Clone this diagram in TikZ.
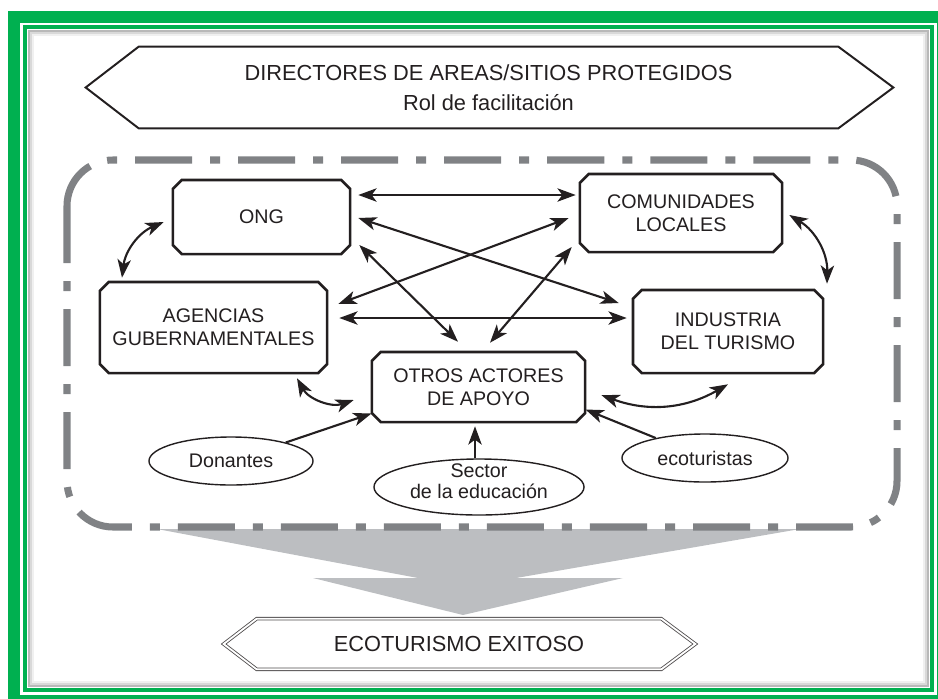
\documentclass[tikz,border=0pt]{standalone}
\usepackage{fontspec}
\setmainfont{Liberation Sans}
\usetikzlibrary{calc,shapes.misc,shapes.geometric,arrows.meta}

\definecolor{framegreen}{RGB}{0,176,80}
\definecolor{dashgrey}{RGB}{128,130,133}
\definecolor{funnelgrey}{RGB}{188,190,193}
\definecolor{ink}{RGB}{35,31,32}

\tikzset{
  actor/.style={chamfered rectangle, chamfered rectangle xsep=0.11cm, chamfered rectangle ysep=0.11cm,
    draw=ink, line width=1.8pt, fill=white, align=center, text=ink, inner sep=0pt,
    font=\fontsize{14}{16.5}\selectfont},
  oval/.style={ellipse, draw=ink, line width=1pt, fill=white, inner sep=0pt, text=ink,
    font=\fontsize{14}{16}\selectfont},
  link/.style={ink, line width=1.5pt},
  banner/.style={draw=ink, line width=1.4pt},
}

\begin{document}
\begin{tikzpicture}[x=0.025cm, y=-0.025cm, >={Stealth[length=13pt,width=9.5pt,inset=3.5pt]}]

\useasboundingbox (0,0) rectangle (938,698);
\clip (0,0) rectangle (938,698);

\draw[framegreen, line width=8.5pt] (14,17) rectangle (943,701);
\draw[framegreen, line width=2.8pt] (25,27) rectangle (932,690);
\draw[gray!55, line width=1.5pt] (29,31) rectangle (928,686);
\draw[gray!30, line width=1.5pt] (31,33) rectangle (926,684);
\draw[gray!12, line width=1.5pt] (33,35) rectangle (924,682);

\node[align=center, text=ink, inner sep=0pt, minimum width=17.475cm, minimum height=2.025cm,
  font=\fontsize{15.5}{21}\selectfont] (dir) at (488.5,87.5)
  {DIRECTORES DE AREAS/SITIOS PROTEGIDOS\\Rol de facilitación};
\draw[banner] (dir.north west) -- (dir.north east) -- ($(dir.east)+(55,0)$) -- (dir.south east)
  -- (dir.south west) -- ($(dir.west)+(-53,0)$) -- cycle;

\fill[funnelgrey] (157,529) -- (418,578) -- (313,578) -- (463,615) -- (623,578) -- (516,578) -- (800,529) -- cycle;

\draw[dashgrey, line width=5pt, rounded corners=1.15cm,
  dash pattern=on 1.425cm off 0.45cm on 0.25cm off 0.45cm] (67,160) rectangle (897,527);

\node[actor, minimum width=4.425cm, minimum height=1.85cm] (ong) at (261.5,217) {ONG};

\node[actor, minimum width=5.05cm, minimum height=1.95cm] (comunidades) at (681,213) {COMUNIDADES\\LOCALES};

\node[actor, minimum width=5.675cm, minimum height=2.275cm] (agencias) at (213.5,327.5) {AGENCIAS\\GUBERNAMENTALES};

\node[actor, minimum width=4.75cm, minimum height=2.075cm] (industria) at (728,331.5) {INDUSTRIA\\DEL TURISMO};

\node[actor, minimum width=5.325cm, minimum height=1.75cm] (otros) at (478.5,387) {OTROS ACTORES\\DE APOYO};

\node[oval, minimum width=4.1cm, minimum height=1.2cm] (donantes) at (231,461) {Donantes};

\node[oval, minimum width=5.25cm, minimum height=1.4cm] (sector) at (479,487) {};
\node[align=center, text=ink, inner sep=0pt, font=\fontsize{14}{15}\selectfont] (sectortext) at (479,481) {Sector\\de la educación};

\node[oval, minimum width=4.15cm, minimum height=1.2cm] (ecoturistas) at (705,458) {ecoturistas};

\node[text=ink, inner sep=0pt, minimum width=10.1cm, minimum height=1.25cm,
  font=\fontsize{15.5}{18}\selectfont] (exito) at (459,644) {ECOTURISMO EXITOSO};
\draw[draw=ink!80, line width=0.6pt, double=white, double distance=1.3pt] (exito.north west) -- (exito.north east)
  -- ($(exito.east)+(34,0)$) -- (exito.south east) -- (exito.south west) -- ($(exito.west)+(-33,0)$) -- cycle;

\draw[link, <->] ($(ong.east)+(7,-22)$) -- ($(comunidades.west)+(-3,-18)$);
\draw[link, <->] ($(ong.east)+(7,1)$) -- ($(industria.west)+(-13,-28.5)$);
\draw[link, <->] ($(ong.east)+(8,28)$) -- ($(otros.north)+(-20.5,-9)$);
\draw[link, <->] ($(agencias.east)+(10,-23.5)$) -- ($(comunidades.west)+(-10,5)$);
\draw[link, <->] ($(agencias.east)+(11,-9.5)$) -- ($(industria.west)+(-5,-13.5)$);
\draw[link, <->] ($(otros.north)+(11.5,-8)$) -- ($(comunidades.west)+(-7,34)$);
\draw[link, <->] ($(ong.west)+(-8,5)$) to[bend right=30] ($(agencias.north)+(-91.5,-3)$);
\draw[link, <->] ($(comunidades.east)+(6,2)$) to[bend left=30] ($(industria.north)+(99,-5)$);
\draw[link, <->] ($(agencias.south)+(83.5,4)$) to[bend right=40] ($(otros.west)+(-17,13)$);
\draw[link, <->] ($(otros.east)+(15,8)$) to[bend right=25] ($(industria.south)+(0,10)$);
\draw[link, ->] (donantes) -- ($(otros.south west)+(-4,-5)$);
\draw[link, ->] ($(sector.north)+(-4,0)$) -- ($(otros.south)+(-3.5,3)$);
\draw[link, ->] (ecoturistas) -- ($(otros.south east)+(4,-9)$);

\end{tikzpicture}
\end{document}
